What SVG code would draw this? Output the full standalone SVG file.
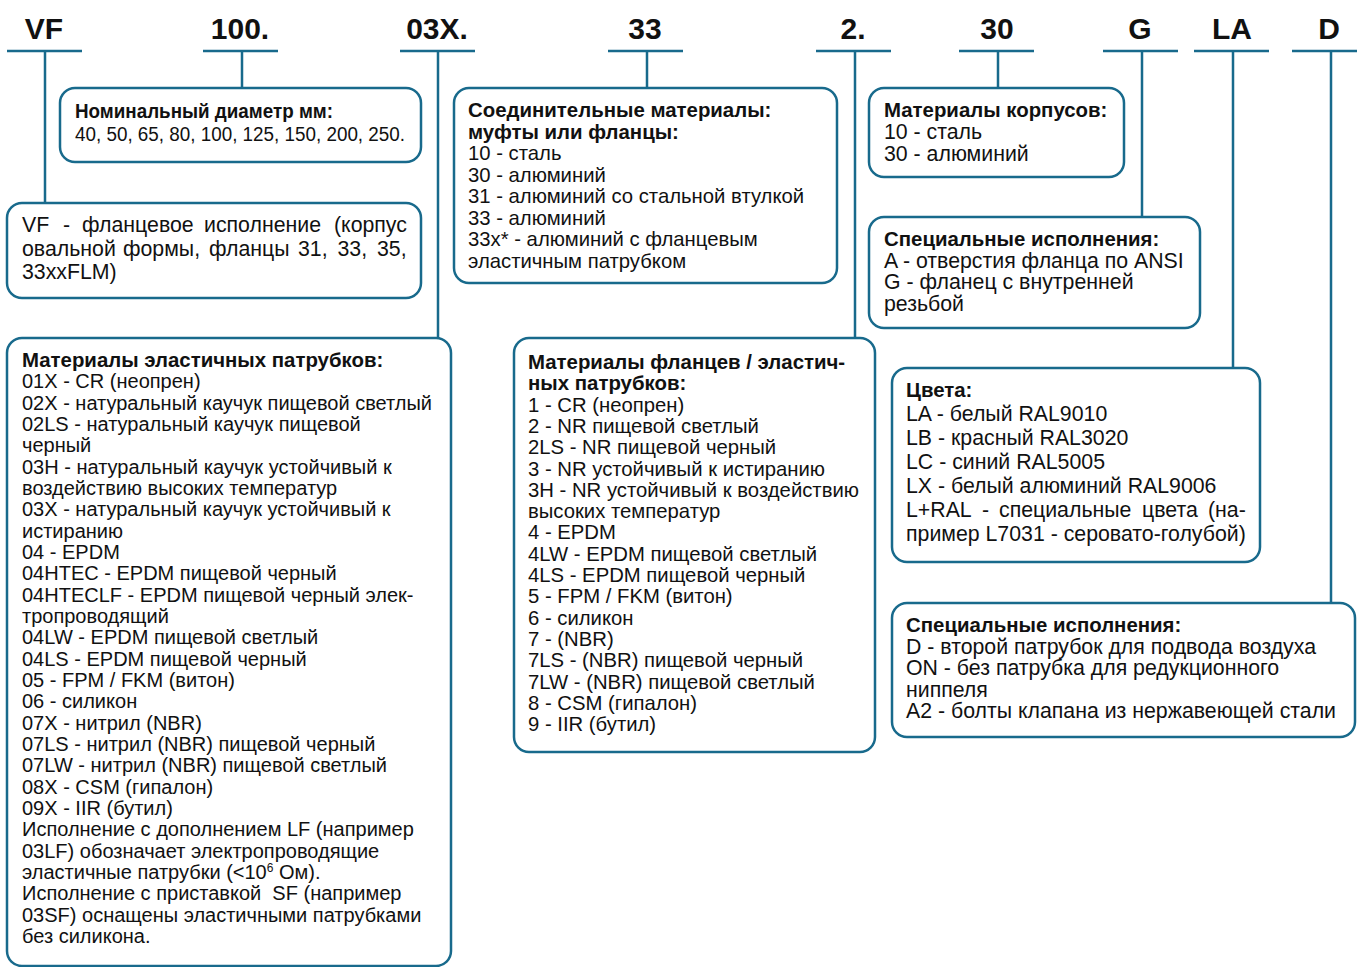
<svg xmlns="http://www.w3.org/2000/svg" width="1357" height="967" viewBox="0 0 1357 967">
<style>
.ln{stroke:#186a8c;stroke-width:2.5;fill:none}
.box{stroke:#186a8c;stroke-width:2.5;fill:#fff}
.hd{font-family:"Liberation Sans",Arial,sans-serif;font-weight:bold;font-size:30px;fill:#111;text-anchor:middle}
.t{font-family:"Liberation Sans",Arial,sans-serif;font-size:20px;fill:#111}
.b{font-weight:bold;font-size:20.4px}
.l{font-size:21.3px}
.m{font-size:20.3px}
</style>
<rect width="1357" height="967" fill="#fff"/>
<g id="codes">
<text class="hd" x="44" y="39">VF</text>
<text class="hd" x="240" y="39">100.</text>
<text class="hd" x="437" y="39">03X.</text>
<text class="hd" x="645" y="39">33</text>
<text class="hd" x="853" y="39">2.</text>
<text class="hd" x="997" y="39">30</text>
<text class="hd" x="1140" y="39">G</text>
<text class="hd" x="1232" y="39">LA</text>
<text class="hd" x="1329" y="39">D</text>
</g>
<g id="connectors">
<path class="ln" d="M7 51H82M45 51V203"/>
<path class="ln" d="M203 51H278M242 51V88"/>
<path class="ln" d="M400 51H475M438 51V338"/>
<path class="ln" d="M608 51H683M647 51V88"/>
<path class="ln" d="M816 51H891M855 51V338"/>
<path class="ln" d="M959 51H1034M998 51V88"/>
<path class="ln" d="M1103 51H1178M1142 51V217"/>
<path class="ln" d="M1194 51H1269M1233 51V368"/>
<path class="ln" d="M1292 51H1357M1331 51V603"/>
</g>
<g id="diameter">
<rect class="box" x="60" y="88" width="361" height="74" rx="15"/>
<text class="t" x="75" y="118" font-weight="bold" textLength="258" lengthAdjust="spacingAndGlyphs">Номинальный диаметр мм:</text>
<text class="t" x="75" y="141" textLength="330" lengthAdjust="spacingAndGlyphs">40, 50, 65, 80, 100, 125, 150, 200, 250.</text>
</g>
<g id="vf">
<rect class="box" x="7" y="203" width="414" height="95" rx="15"/>
<text class="t l" y="232"><tspan x="22">VF</tspan><tspan x="63">-</tspan><tspan x="82">фланцевое</tspan><tspan x="204">исполнение</tspan><tspan x="334">(корпус</tspan></text>
<text class="t l" y="255.5"><tspan x="22">овальной</tspan><tspan x="123">формы,</tspan><tspan x="209">фланцы</tspan><tspan x="298">31,</tspan><tspan x="337.5">33,</tspan><tspan x="377">35,</tspan></text>
<text class="t l" x="22" y="279">33xxFLM)</text>
</g>
<g id="connection">
<rect class="box" x="454" y="88" width="383" height="195" rx="15"/>
<text class="t m">
<tspan class="b" font-size="21.2" x="468" y="117">Соединительные материалы:</tspan>
<tspan class="b" font-size="21.2" x="468" y="138.5">муфты или фланцы:</tspan>
<tspan x="468" y="160">10 - сталь</tspan>
<tspan x="468" y="181.5">30 - алюминий</tspan>
<tspan x="468" y="203">31 - алюминий со стальной втулкой</tspan>
<tspan x="468" y="224.5">33 - алюминий</tspan>
<tspan x="468" y="246">33x* - алюминий с фланцевым</tspan>
<tspan x="468" y="267.5">эластичным патрубком</tspan>
</text>
</g>
<g id="body">
<rect class="box" x="869" y="88" width="255" height="89" rx="15"/>
<text class="t l">
<tspan class="b" x="884" y="117">Материалы корпусов:</tspan>
<tspan x="884" y="139">10 - сталь</tspan>
<tspan x="884" y="161">30 - алюминий</tspan>
</text>
</g>
<g id="special-g">
<rect class="box" x="869" y="217" width="331" height="111" rx="15"/>
<text class="t l">
<tspan class="b" x="884" y="246">Специальные исполнения:</tspan>
<tspan x="884" y="267.5">A - отверстия фланца по ANSI</tspan>
<tspan x="884" y="289">G - фланец с внутренней</tspan>
<tspan x="884" y="310.5">резьбой</tspan>
</text>
</g>
<g id="elastomers">
<rect class="box" x="7" y="338" width="444" height="628" rx="15"/>
<text class="t" font-size="20.2">
<tspan class="b" x="22" y="367">Материалы эластичных патрубков:</tspan>
<tspan x="22" y="388.33">01X - CR (неопрен)</tspan>
<tspan x="22" y="409.67">02X - натуральный каучук пищевой светлый</tspan>
<tspan x="22" y="431">02LS - натуральный каучук пищевой</tspan>
<tspan x="22" y="452.33">черный</tspan>
<tspan x="22" y="473.67">03H - натуральный каучук устойчивый к</tspan>
<tspan x="22" y="495">воздействию высоких температур</tspan>
<tspan x="22" y="516.33">03X - натуральный каучук устойчивый к</tspan>
<tspan x="22" y="537.67">истиранию</tspan>
<tspan x="22" y="559">04 - EPDM</tspan>
<tspan x="22" y="580.33">04HTEC - EPDM пищевой черный</tspan>
<tspan x="22" y="601.67">04HTECLF - EPDM пищевой черный элек-</tspan>
<tspan x="22" y="623">тропроводящий</tspan>
<tspan x="22" y="644.33">04LW - EPDM пищевой светлый</tspan>
<tspan x="22" y="665.67">04LS - EPDM пищевой черный</tspan>
<tspan x="22" y="687">05 - FPM / FKM (витон)</tspan>
<tspan x="22" y="708.33">06 - силикон</tspan>
<tspan x="22" y="729.67">07X - нитрил (NBR)</tspan>
<tspan x="22" y="751">07LS - нитрил (NBR) пищевой черный</tspan>
<tspan x="22" y="772.33">07LW - нитрил (NBR) пищевой светлый</tspan>
<tspan x="22" y="793.67">08X - CSM (гипалон)</tspan>
<tspan x="22" y="815">09X - IIR (бутил)</tspan>
<tspan x="22" y="836.33">Исполнение с дополнением LF (например</tspan>
<tspan x="22" y="857.67">03LF) обозначает электропроводящие</tspan>
<tspan x="22" y="879">эластичные патрубки (&lt;10</tspan><tspan font-size="12" dy="-7">6</tspan><tspan dy="7"> Ом).</tspan>
<tspan x="22" y="900.33">Исполнение с приставкой&#160; SF (например</tspan>
<tspan x="22" y="921.67">03SF) оснащены эластичными патрубками</tspan>
<tspan x="22" y="943">без силикона.</tspan>
</text>
</g>
<g id="flanges">
<rect class="box" x="514" y="338" width="361" height="414" rx="15"/>
<text class="t m">
<tspan class="b" x="528" y="369">Материалы фланцев / эластич-</tspan>
<tspan class="b" x="528" y="390.3">ных патрубков:</tspan>
<tspan x="528" y="411.6">1 - CR (неопрен)</tspan>
<tspan x="528" y="432.9">2 - NR пищевой светлый</tspan>
<tspan x="528" y="454.2">2LS - NR пищевой черный</tspan>
<tspan x="528" y="475.5">3 - NR устойчивый к истиранию</tspan>
<tspan x="528" y="496.8">3H - NR устойчивый к воздействию</tspan>
<tspan x="528" y="518.1">высоких температур</tspan>
<tspan x="528" y="539.4">4 - EPDM</tspan>
<tspan x="528" y="560.7">4LW - EPDM пищевой светлый</tspan>
<tspan x="528" y="582">4LS - EPDM пищевой черный</tspan>
<tspan x="528" y="603.3">5 - FPM / FKM (витон)</tspan>
<tspan x="528" y="624.6">6 - силикон</tspan>
<tspan x="528" y="645.9">7 - (NBR)</tspan>
<tspan x="528" y="667.2">7LS - (NBR) пищевой черный</tspan>
<tspan x="528" y="688.5">7LW - (NBR) пищевой светлый</tspan>
<tspan x="528" y="709.8">8 - CSM (гипалон)</tspan>
<tspan x="528" y="731.1">9 - IIR (бутил)</tspan>
</text>
</g>
<g id="colors">
<rect class="box" x="892" y="368" width="368" height="194" rx="15"/>
<text class="t l">
<tspan class="b" x="906" y="397">Цвета:</tspan>
<tspan x="906" y="421">LA - белый RAL9010</tspan>
<tspan x="906" y="445">LB - красный RAL3020</tspan>
<tspan x="906" y="469">LC - синий RAL5005</tspan>
<tspan x="906" y="493">LX - белый алюминий RAL9006</tspan>
</text>
<text class="t l" y="517"><tspan x="906">L+RAL</tspan><tspan x="982">-</tspan><tspan x="999">специальные</tspan><tspan x="1142">цвета</tspan><tspan x="1208">(на-</tspan></text>
<text class="t l" x="906" y="541">пример L7031 - серовато-голубой)</text>
</g>
<g id="special-d">
<rect class="box" x="892" y="603" width="463" height="134" rx="15"/>
<text class="t l">
<tspan class="b" font-size="20.5" x="906" y="632">Специальные исполнения:</tspan>
<tspan x="906" y="653.5">D - второй патрубок для подвода воздуха</tspan>
<tspan x="906" y="675">ON - без патрубка для редукционного</tspan>
<tspan x="906" y="696.5">ниппеля</tspan>
<tspan x="906" y="718">A2 - болты клапана из нержавеющей стали</tspan>
</text>
</g>
</svg>
